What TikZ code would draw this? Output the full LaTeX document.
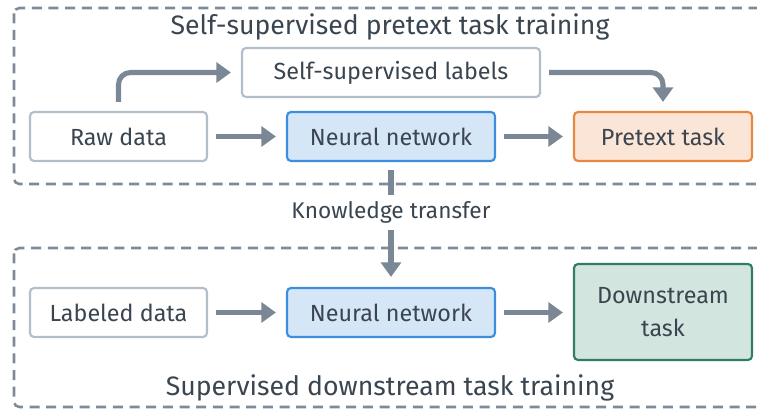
\documentclass[tikz,border=0pt]{standalone}
\usepackage{fontspec}
\setmainfont{Fira Sans}
\usetikzlibrary{arrows.meta}
\definecolor{txt}{HTML}{3A4550}
\definecolor{arr}{HTML}{7A8794}
\definecolor{grpline}{HTML}{7E8A96}
\definecolor{plainedge}{HTML}{B4BEC8}
\definecolor{nnfill}{HTML}{D5E6F7}
\definecolor{nnedge}{HTML}{3D8EDF}
\definecolor{ptfill}{HTML}{FBE5D7}
\definecolor{ptedge}{HTML}{E8873F}
\definecolor{dsfill}{HTML}{D3E5DF}
\definecolor{dsedge}{HTML}{2F7D67}
\tikzset{
  box/.style={draw=plainedge, line width=1.6pt, rounded corners=3pt, fill=white,
    text=txt, font=\fontsize{17.5}{20}\selectfont, align=center, inner sep=0pt},
  nnbox/.style={box, draw=nnedge, fill=nnfill},
  ptbox/.style={box, draw=ptedge, fill=ptfill},
  dsbox/.style={box, draw=dsedge, fill=dsfill},
  group/.style={draw=grpline, line width=1.9pt, dash pattern=on 7.5pt off 5pt, rounded corners=4pt},
  flow/.style={draw=arr, line width=3.8pt, rounded corners=9pt,
    -{Triangle[length=11pt,width=15pt]}},
  plainline/.style={draw=arr, line width=3.8pt},
  title/.style={text=txt, font=\fontsize{20}{23}\selectfont, inner sep=0pt},
}
\begin{document}
\begin{tikzpicture}[x=0.75pt,y=-0.75pt]
\useasboundingbox (0,0) rectangle (757,410);

% group frames (they run past the right edge)
\draw[group] (14,8) rectangle (775,184);
\draw[group] (14,248) rectangle (775,407);

\node[title] (toptitle) at (390,27) {Self-supervised pretext task training};
\node[title] (bottitle) at (390,388) {Supervised downstream task training};

% pretext stage
\node[box, minimum width=177*0.75pt, minimum height=49*0.75pt] (raw) at (118.5,136.5) {Raw data};
\node[box, minimum width=298*0.75pt, minimum height=49*0.75pt] (ssl) at (391,72.5) {Self-supervised labels};
\node[nnbox, minimum width=208*0.75pt, minimum height=49*0.75pt] (nn1) at (391,136.5) {Neural network};
\node[ptbox, minimum width=178*0.75pt, minimum height=49*0.75pt] (pt) at (663,136.5) {Pretext task};

% downstream stage
\node[box, minimum width=177*0.75pt, minimum height=49*0.75pt] (lab) at (118.5,312.5) {Labeled data};
\node[nnbox, minimum width=208*0.75pt, minimum height=49*0.75pt] (nn2) at (391,312.5) {Neural network};
\node[dsbox, minimum width=178*0.75pt, minimum height=96*0.75pt] (ds) at (663,312) {Downstream\\[5pt]task};

\node[title, font=\fontsize{17}{20}\selectfont] (kt) at (391,212) {Knowledge transfer};

% connectors
\draw[flow] ([xshift=8*0.75pt]raw.east) -- ([xshift=-10*0.75pt]nn1.west);
\draw[flow] ([xshift=8*0.75pt]nn1.east) -- ([xshift=-10*0.75pt]pt.west);
\draw[flow] ([yshift=9*0.75pt]raw.north) |- ([xshift=-10*0.75pt]ssl.west);
\draw[flow] ([xshift=8*0.75pt]ssl.east) -| ([yshift=9*0.75pt]pt.north);
\draw[flow] ([xshift=8*0.75pt]lab.east) -- ([xshift=-10*0.75pt]nn2.west);
\draw[flow] ([xshift=8*0.75pt]nn2.east) -- ([xshift=-10*0.75pt]nn2.east -| ds.west);
\draw[plainline] ([yshift=-8*0.75pt]nn1.south) -- ([yshift=6*0.75pt]kt.north);
\draw[flow] ([yshift=-7*0.75pt]kt.south) -- ([yshift=10*0.75pt]nn2.north);
\end{tikzpicture}
\end{document}
